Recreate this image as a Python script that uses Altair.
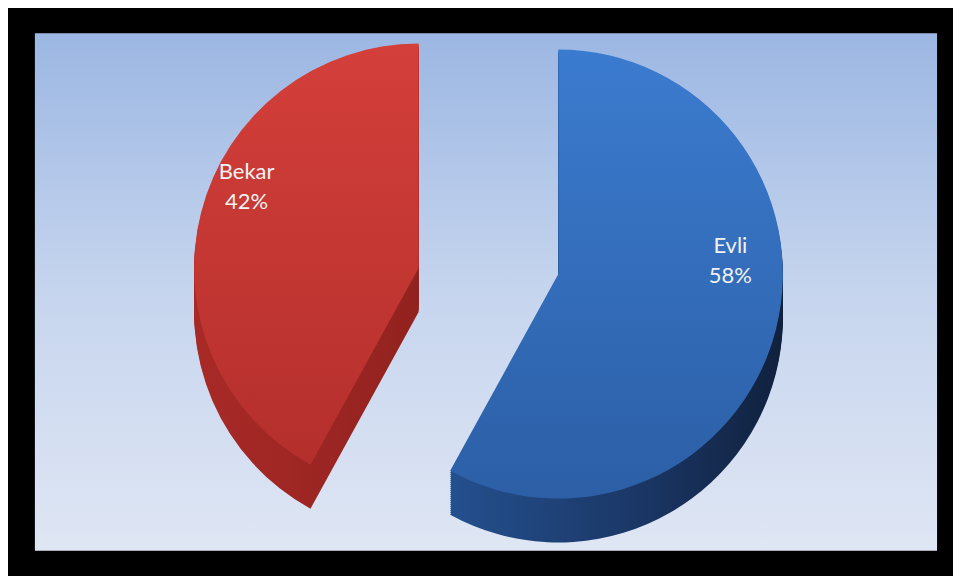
import altair as alt
import pandas as pd

# ---- data ----
categories = ["Evli", "Bekar"]
values = [58, 42]
order = [1, 2]

df = pd.DataFrame({"cat": categories, "value": values, "ord": order})

W, H = 947, 568
R = 225
DEPTH = 44

# explode offsets (relative to chart centre)
offsets = {"Evli": (78, -18), "Bekar": (-62, -24)}
label_shift = {"Evli": -72, "Bekar": -52}
top_fill = {
    "Evli": alt.LinearGradient(gradient="linear", x1=0, x2=0, y1=0, y2=1,
                               stops=[alt.GradientStop(color="#3b7bcf", offset=0),
                                      alt.GradientStop(color="#2c5fa6", offset=1)]),
    "Bekar": alt.LinearGradient(gradient="linear", x1=0, x2=0, y1=0, y2=1,
                                stops=[alt.GradientStop(color="#d43f3a", offset=0),
                                       alt.GradientStop(color="#b42f2c", offset=1)]),
}
side_fill = {
    "Evli": alt.LinearGradient(gradient="linear", x1=0, x2=1, y1=0, y2=0,
                               stops=[alt.GradientStop(color="#24508e", offset=0),
                                      alt.GradientStop(color="#1a3563", offset=0.6),
                                      alt.GradientStop(color="#10213d", offset=1)]),
    "Bekar": alt.LinearGradient(gradient="linear", x1=0, x2=1, y1=0, y2=0,
                                stops=[alt.GradientStop(color="#a82a27", offset=0),
                                       alt.GradientStop(color="#92221f", offset=1)]),
}

base = (
    alt.Chart(df)
    .transform_joinaggregate(total="sum(value)")
    .transform_window(cum="sum(value)", sort=[alt.SortField("ord")])
    .transform_calculate(
        end="2*PI*datum.cum/datum.total",
        start="2*PI*(datum.cum-datum.value)/datum.total",
        mid="PI*(2*datum.cum-datum.value)/datum.total",
        label="datum.cat + '\\n' + datum.value + '%'",
    )
)

bg = alt.Chart(df).mark_rect(
    fill=alt.LinearGradient(gradient="linear", x1=0, x2=0, y1=0, y2=1,
                            stops=[alt.GradientStop(color="#9cb7e3", offset=0),
                                   alt.GradientStop(color="#c6d5ee", offset=0.5),
                                   alt.GradientStop(color="#dfe6f4", offset=1)])
).encode(x=alt.value(27), x2=alt.value(931), y=alt.value(25), y2=alt.value(543))

layers = [bg]
for cat in ["Bekar", "Evli"]:
    ox, oy = offsets[cat]
    sl = base.transform_filter(alt.datum.cat == cat)
    for k in range(DEPTH, 0, -2):
        layers.append(
            sl.mark_arc(outerRadius=R, xOffset=ox, yOffset=oy + k, fill=side_fill[cat])
            .encode(theta=alt.Theta("start:Q", scale=None), theta2="end:Q")
        )
    layers.append(
        sl.mark_arc(outerRadius=R, xOffset=ox, yOffset=oy, fill=top_fill[cat])
        .encode(theta=alt.Theta("start:Q", scale=None), theta2="end:Q")
    )
    layers.append(
        sl.mark_text(radius=178, xOffset=ox, yOffset=oy + label_shift[cat], font="Lato",
                     fontSize=22, color="#f2f2f2", lineBreak="\n", lineHeight=30,
                     align="center", baseline="middle")
        .encode(theta=alt.Theta("mid:Q", scale=None), text="label:N")
    )

chart = (
    alt.layer(*layers)
    .properties(width=W, height=H, background="black", padding=0, autosize="none")
    .configure_view(stroke=None)
)

chart.save("out.html", embed_options={"renderer": "svg", "actions": False})
